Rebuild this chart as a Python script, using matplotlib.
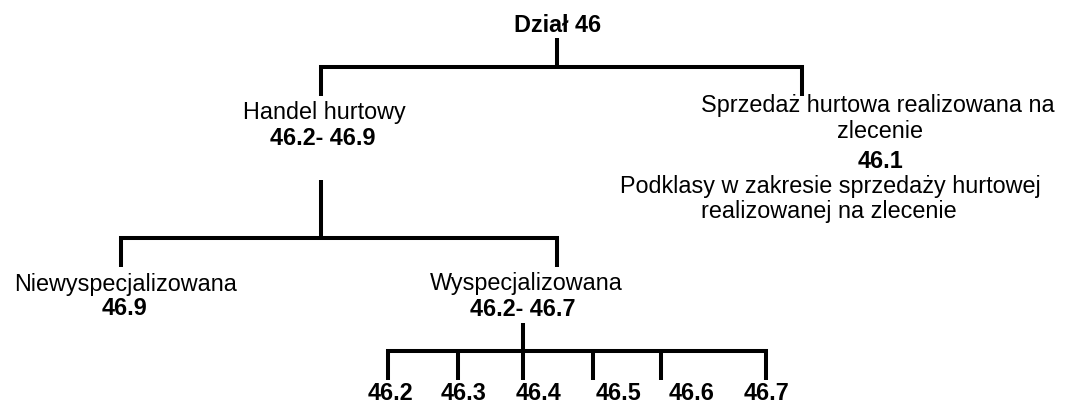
import matplotlib.pyplot as plt

# tree content
root = "Dział 46"
branch_names = ["Handel hurtowy", "Sprzedaż hurtowa realizowana na"]
branch_codes = ["46.2- 46.9", "46.1"]
agent_extra = ["zlecenie"]
agent_notes = ["Podklasy w zakresie sprzedaży hurtowej", "realizowanej na zlecenie"]
sub_names = ["Niewyspecjalizowana", "Wyspecjalizowana"]
sub_codes = ["46.9", "46.2- 46.7"]
leaf_codes = ["46.2", "46.3", "46.4", "46.5", "46.6", "46.7"]

# layout (pixel coordinates, y downwards)
branch_x = [321, 802]
sub_x = [121, 557]
leaf_tick_x = [388, 458, 523, 593, 661, 766]
leaf_text_x = [390, 464, 539, 618, 692, 767]

plt.rcParams['font.family'] = ['Liberation Sans', 'DejaVu Sans']
FS = 16.8
LW = 2.9

fig = plt.figure(figsize=(10.65, 4.05), dpi=100)
ax = fig.add_axes([0, 0, 1, 1])
ax.set_xlim(0, 1065)
ax.set_ylim(405, 0)
ax.axis('off')


def bracket(x_stem, y_top, y_bar, xs, y_end):
    ax.plot([x_stem, x_stem], [y_top, y_bar], color='black', lw=LW,
            solid_capstyle='butt')
    ax.plot([xs[0], xs[0], xs[-1], xs[-1]], [y_end, y_bar, y_bar, y_end],
            color='black', lw=LW, solid_capstyle='butt', solid_joinstyle='miter')
    for x in xs[1:-1]:
        ax.plot([x, x], [y_bar, y_end], color='black', lw=LW,
                solid_capstyle='butt')


def txt(x, y, s, bold=False):
    ax.text(x, y, s, ha='center', va='baseline', fontsize=FS,
            fontweight='bold' if bold else 'normal', color='black')


# root
txt(558, 32, root, bold=True)
bracket(557, 38, 67, branch_x, 96)

# wholesale branch
txt(324, 119, branch_names[0])
txt(323, 145, branch_codes[0], bold=True)
bracket(321, 180, 238, sub_x, 267)

# agent branch
txt(878, 112, branch_names[1])
txt(880, 138, agent_extra[0])
txt(881, 168, branch_codes[1], bold=True)
txt(830, 193, agent_notes[0])
txt(829, 218, agent_notes[1])

# sub branches
txt(126, 291, sub_names[0])
txt(124, 315, sub_codes[0], bold=True)
txt(526, 290, sub_names[1])
txt(523, 316, sub_codes[1], bold=True)
bracket(523, 323, 351, leaf_tick_x, 380)

for x, s in zip(leaf_text_x, leaf_codes):
    txt(x, 400, s, bold=True)

fig.savefig('out.png', dpi=100)
